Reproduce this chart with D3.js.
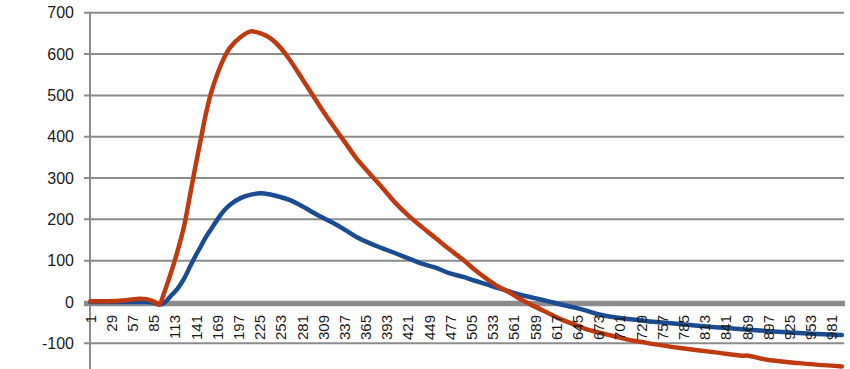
<!DOCTYPE html>
<html lang="en">
<head>
<meta charset="UTF-8">
<title>Line chart</title>
<style>
  body { margin: 0; background: #fff; }
  svg { display: block; }
  .grid line { stroke: #8c8c8c; stroke-width: 2px; }
  .ylab { font: 16px "Liberation Sans", Arial, sans-serif; fill: #1a1a1a; }
  .xlab { font: 15px "Liberation Sans", Arial, sans-serif; fill: #1a1a1a; }
  .series { fill: none; stroke-width: 4.5px; stroke-linejoin: round; stroke-linecap: round; }
</style>
</head>
<body>
<script src="https://cdn.jsdelivr.net/npm/d3@7"></script>
<script>
// number of categories on the x axis
const nCategories = 995;
// category labels that are shown (every 28th)
const xTickLabels = [1, 29, 57, 85, 113, 141, 169, 197, 225, 253, 281, 309, 337, 365, 393, 421,
  449, 477, 505, 533, 561, 589, 617, 645, 673, 701, 729, 757, 785, 813, 841, 869, 897, 925, 953, 981];
const yTicks = [-100, 0, 100, 200, 300, 400, 500, 600, 700];

const sampleIdx = [1, 20, 40, 55, 65, 75, 85, 92, 98, 107, 116, 125, 133, 140, 147, 153, 160, 169,
  178, 186, 200, 213, 226, 239, 250, 263, 281, 294, 307, 325, 338, 352, 369, 387, 404, 422, 440,
  457, 475, 495, 508, 526, 539, 552, 570, 587, 605, 623, 640, 658, 675, 693, 711, 730, 745, 783,
  827, 862, 870, 893, 937, 994];

const redValues = [2, 2, 3, 6, 8, 7, 1, -6, 20, 68, 122, 185, 262, 330, 395, 450, 503, 553,
  592, 617, 642, 655, 650, 638, 620, 590, 540, 503, 466, 418, 385, 349, 313, 276, 240, 208, 180,
  155, 128, 100, 79, 54, 38, 26, 6, -10, -26, -42, -54, -67, -75, -83, -91, -97, -102, -112,
  -122, -130, -130, -139, -148, -156];

const blueValues = [0, 0, 0, 0, 0, 0, -2, -6, -3, 14, 32, 57, 87, 112, 135, 155, 175, 200,
  222, 236, 252, 260, 263, 260, 255, 248, 232, 218, 205, 188, 174, 158, 143, 130, 118, 105, 92,
  83, 70, 60, 52, 42, 34, 27, 17, 10, 2, -6, -13, -22, -31, -37, -41, -45, -48, -54,
  -61, -66, -67, -70, -75, -80];

const W = 850, H = 369;
const svg = d3.select('body').append('svg').attr('width', W).attr('height', H);

const x = d3.scaleLinear().domain([0.5, nCategories + 0.5]).range([90, 843]);
const y = d3.scaleLinear().domain([-100, 700]).range([343.3, 12.8]);

// horizontal gridlines
const grid = svg.append('g').attr('class', 'grid');
grid.selectAll('line.h')
  .data(yTicks.filter(d => d !== 0))
  .enter().append('line')
  .attr('x1', 84).attr('x2', 844)
  .attr('y1', d => y(d)).attr('y2', d => y(d));

// vertical axis line
grid.append('line')
  .attr('x1', 90).attr('x2', 90)
  .attr('y1', y(700) - 1).attr('y2', H);

// zero line (thick)
grid.append('line')
  .attr('x1', 84).attr('x2', 845)
  .attr('y1', y(0) + 1.5).attr('y2', y(0) + 1.5)
  .style('stroke-width', '5.5px');

// y labels
svg.selectAll('text.ylab')
  .data(yTicks)
  .enter().append('text')
  .attr('class', 'ylab')
  .attr('x', 74)
  .attr('y', d => y(d))
  .attr('dy', '0.35em')
  .attr('text-anchor', 'end')
  .text(d => d);

// series lines
const line = vals => d3.line()
  .x((d, i) => x(sampleIdx[i]))
  .y(d => y(d))
  .curve(d3.curveCatmullRom.alpha(0.5))(vals);

svg.append('path').attr('class', 'series')
  .attr('d', line(blueValues)).attr('stroke', '#1b4c91');
svg.append('path').attr('class', 'series')
  .attr('d', line(redValues)).attr('stroke', '#be3a10');

// x category labels, rotated
svg.selectAll('text.xlab')
  .data(xTickLabels)
  .enter().append('text')
  .attr('class', 'xlab')
  .attr('transform', d => `translate(${x(d)},315) rotate(-90)`)
  .attr('dy', '0.35em')
  .attr('text-anchor', 'end')
  .text(d => d);
</script>
</body>
</html>
